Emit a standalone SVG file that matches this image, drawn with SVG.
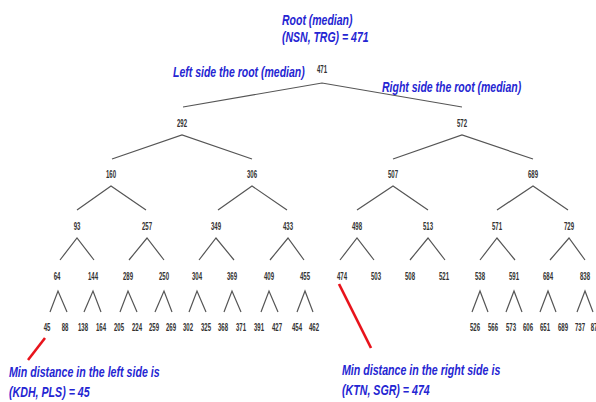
<svg xmlns="http://www.w3.org/2000/svg" width="596" height="402" viewBox="0 0 596 402">
<style>
.num{font-family:"Liberation Sans",Arial,sans-serif;font-size:11px;font-weight:bold;fill:#333;text-anchor:middle}
.lbl{font-family:"Liberation Sans",Arial,sans-serif;font-style:italic;font-weight:bold;font-size:14px;fill:#2525d2}
.edge{stroke:#555;stroke-width:1.2;fill:none;stroke-linejoin:miter}
.red{stroke:#e8141c;stroke-width:2.6;fill:none}
</style>
<rect width="596" height="402" fill="#fff"/>
<g id="connectors">
<polyline class="edge" points="183,107 322,83 462,107"/>
<polyline class="edge" points="112,159 182,135 252,159"/>
<polyline class="edge" points="393,159 462,135 533,159"/>
<polyline class="edge" points="77,210 111,186 146,210"/>
<polyline class="edge" points="218,210 252,186 287,210"/>
<polyline class="edge" points="357,210 393,186 428,210"/>
<polyline class="edge" points="497,210 533,186 568,210"/>
<polyline class="edge" points="60,260 77,238 94,260"/>
<polyline class="edge" points="129,260 147,238 164,260"/>
<polyline class="edge" points="199,260 216,238 234,260"/>
<polyline class="edge" points="270,260 288,238 304,260"/>
<polyline class="edge" points="340,260 357,238 374,260"/>
<polyline class="edge" points="410,260 428,238 445,260"/>
<polyline class="edge" points="480,260 497,238 515,260"/>
<polyline class="edge" points="550,260 569,238 585,260"/>
<polyline class="edge" points="50,312 58,291 67,312"/>
<polyline class="edge" points="84,312 93,291 101,312"/>
<polyline class="edge" points="120,312 128,291 137,312"/>
<polyline class="edge" points="155,312 164,291 172,312"/>
<polyline class="edge" points="189,312 197,291 206,312"/>
<polyline class="edge" points="224,312 232,291 241,312"/>
<polyline class="edge" points="261,312 269,291 278,312"/>
<polyline class="edge" points="297,312 305,291 313,312"/>
<polyline class="edge" points="472,312 480,291 488,312"/>
<polyline class="edge" points="506,312 514,291 522,312"/>
<polyline class="edge" points="540,312 548,291 556,312"/>
<polyline class="edge" points="577,312 585,291 593,312"/>
<line class="red" x1="45" y1="338" x2="28" y2="360"/>
<line class="red" x1="339" y1="284" x2="371" y2="348"/>
</g>
<g id="labels">
<text class="lbl" transform="translate(282 25) scale(0.75 1)">Root (median)</text>
<text class="lbl" transform="translate(282 42) scale(0.75 1)">(NSN, TRG) = 471</text>
<text class="lbl" transform="translate(173 77) scale(0.75 1)">Left side the root (median)</text>
<text class="lbl" transform="translate(382 92) scale(0.75 1)">Right side the root (median)</text>
<text class="lbl" transform="translate(9 377) scale(0.76 1)">Min distance in the left side is</text>
<text class="lbl" transform="translate(9 397) scale(0.76 1)">(KDH, PLS) = 45</text>
<text class="lbl" transform="translate(342 375) scale(0.76 1)">Min distance in the right side is</text>
<text class="lbl" transform="translate(342 395) scale(0.76 1)">(KTN, SGR) = 474</text>
</g>
<g id="n471"><text class="num" transform="translate(322 73) scale(0.55 1)">471</text></g>
<g id="n292"><text class="num" transform="translate(182 127) scale(0.55 1)">292</text></g>
<g id="n572"><text class="num" transform="translate(462 127) scale(0.55 1)">572</text></g>
<g id="n160"><text class="num" transform="translate(111 178) scale(0.55 1)">160</text></g>
<g id="n306"><text class="num" transform="translate(252 178) scale(0.55 1)">306</text></g>
<g id="n507"><text class="num" transform="translate(393 178) scale(0.55 1)">507</text></g>
<g id="n689"><text class="num" transform="translate(533 178) scale(0.55 1)">689</text></g>
<g id="n93"><text class="num" transform="translate(77 230) scale(0.55 1)">93</text></g>
<g id="n257"><text class="num" transform="translate(147 230) scale(0.55 1)">257</text></g>
<g id="n349"><text class="num" transform="translate(216 230) scale(0.55 1)">349</text></g>
<g id="n433"><text class="num" transform="translate(288 230) scale(0.55 1)">433</text></g>
<g id="n498"><text class="num" transform="translate(357 230) scale(0.55 1)">498</text></g>
<g id="n513"><text class="num" transform="translate(428 230) scale(0.55 1)">513</text></g>
<g id="n571"><text class="num" transform="translate(497 230) scale(0.55 1)">571</text></g>
<g id="n729"><text class="num" transform="translate(569 230) scale(0.55 1)">729</text></g>
<g id="n64"><text class="num" transform="translate(57 280) scale(0.55 1)">64</text></g>
<g id="n144"><text class="num" transform="translate(93 280) scale(0.55 1)">144</text></g>
<g id="n289"><text class="num" transform="translate(128 280) scale(0.55 1)">289</text></g>
<g id="n250"><text class="num" transform="translate(164 280) scale(0.55 1)">250</text></g>
<g id="n304"><text class="num" transform="translate(197 280) scale(0.55 1)">304</text></g>
<g id="n369"><text class="num" transform="translate(232 280) scale(0.55 1)">369</text></g>
<g id="n409"><text class="num" transform="translate(269 280) scale(0.55 1)">409</text></g>
<g id="n455"><text class="num" transform="translate(305 280) scale(0.55 1)">455</text></g>
<g id="n474"><text class="num" transform="translate(342 280) scale(0.55 1)">474</text></g>
<g id="n503"><text class="num" transform="translate(376 280) scale(0.55 1)">503</text></g>
<g id="n508"><text class="num" transform="translate(410 280) scale(0.55 1)">508</text></g>
<g id="n521"><text class="num" transform="translate(444 280) scale(0.55 1)">521</text></g>
<g id="n538"><text class="num" transform="translate(480 280) scale(0.55 1)">538</text></g>
<g id="n591"><text class="num" transform="translate(514 280) scale(0.55 1)">591</text></g>
<g id="n684"><text class="num" transform="translate(548 280) scale(0.55 1)">684</text></g>
<g id="n838"><text class="num" transform="translate(585 280) scale(0.55 1)">838</text></g>
<g id="n45"><text class="num" transform="translate(47 331) scale(0.55 1)">45</text></g>
<g id="n88"><text class="num" transform="translate(65 331) scale(0.55 1)">88</text></g>
<g id="n138"><text class="num" transform="translate(83 331) scale(0.55 1)">138</text></g>
<g id="n164"><text class="num" transform="translate(101 331) scale(0.55 1)">164</text></g>
<g id="n205"><text class="num" transform="translate(119 331) scale(0.55 1)">205</text></g>
<g id="n224"><text class="num" transform="translate(137 331) scale(0.55 1)">224</text></g>
<g id="n259"><text class="num" transform="translate(154 331) scale(0.55 1)">259</text></g>
<g id="n269"><text class="num" transform="translate(171 331) scale(0.55 1)">269</text></g>
<g id="n302"><text class="num" transform="translate(188 331) scale(0.55 1)">302</text></g>
<g id="n325"><text class="num" transform="translate(206 331) scale(0.55 1)">325</text></g>
<g id="n368"><text class="num" transform="translate(223 331) scale(0.55 1)">368</text></g>
<g id="n371"><text class="num" transform="translate(241 331) scale(0.55 1)">371</text></g>
<g id="n391"><text class="num" transform="translate(259 331) scale(0.55 1)">391</text></g>
<g id="n427"><text class="num" transform="translate(277 331) scale(0.55 1)">427</text></g>
<g id="n454"><text class="num" transform="translate(297 331) scale(0.55 1)">454</text></g>
<g id="n462"><text class="num" transform="translate(314 331) scale(0.55 1)">462</text></g>
<g id="n526"><text class="num" transform="translate(475 331) scale(0.55 1)">526</text></g>
<g id="n566"><text class="num" transform="translate(493 331) scale(0.55 1)">566</text></g>
<g id="n573"><text class="num" transform="translate(511 331) scale(0.55 1)">573</text></g>
<g id="n606"><text class="num" transform="translate(528 331) scale(0.55 1)">606</text></g>
<g id="n651"><text class="num" transform="translate(545 331) scale(0.55 1)">651</text></g>
<g id="n689b"><text class="num" transform="translate(563 331) scale(0.55 1)">689</text></g>
<g id="n737"><text class="num" transform="translate(580 331) scale(0.55 1)">737</text></g>
<g id="n87"><text class="num" transform="translate(594 331) scale(0.55 1)">87</text></g>
</svg>
